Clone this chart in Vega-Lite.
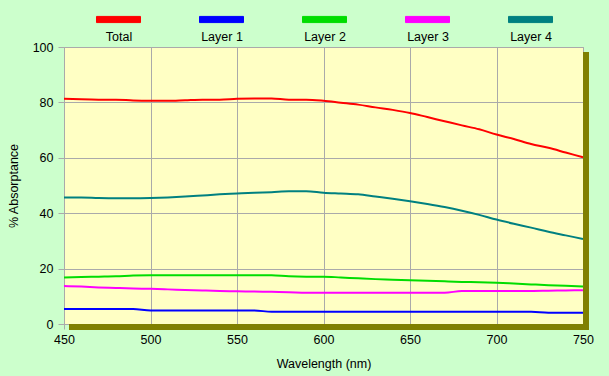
{
  "$schema": "https://vega.github.io/schema/vega-lite/v6.json",
  "width": 519,
  "height": 277,
  "autosize": {"type": "none"},
  "padding": {"left": 64, "top": 47, "right": 26, "bottom": 52},
  "background": "#ccffcc",
  "config": {
    "font": "Liberation Sans",
    "view": {"fill": "#ffffc4", "stroke": "#aaaaaa", "strokeWidth": 1},
    "axis": {
      "domain": false,
      "gridColor": "#aaaaaa",
      "gridWidth": 1,
      "gridOpacity": 1,
      "tickColor": "#aaaaaa",
      "tickWidth": 1,
      "labelFont": "Liberation Sans",
      "labelFontSize": 12.5,
      "labelColor": "#000000",
      "titleFont": "Liberation Sans",
      "titleFontSize": 12.5,
      "titleFontWeight": "normal",
      "titleColor": "#000000"
    }
  },
  "layer": [
    {
      "data": {
        "values": [
          {"w": 450, "Total": 81.3, "Layer 1": 5.4, "Layer 2": 16.8, "Layer 3": 13.7, "Layer 4": 45.7},
          {"w": 460, "Total": 81.1, "Layer 1": 5.4, "Layer 2": 17.0, "Layer 3": 13.5, "Layer 4": 45.7},
          {"w": 470, "Total": 81.0, "Layer 1": 5.4, "Layer 2": 17.1, "Layer 3": 13.2, "Layer 4": 45.5},
          {"w": 480, "Total": 81.0, "Layer 1": 5.4, "Layer 2": 17.2, "Layer 3": 13.0, "Layer 4": 45.4},
          {"w": 490, "Total": 80.7, "Layer 1": 5.4, "Layer 2": 17.5, "Layer 3": 12.8, "Layer 4": 45.4},
          {"w": 500, "Total": 80.6, "Layer 1": 4.9, "Layer 2": 17.6, "Layer 3": 12.7, "Layer 4": 45.5},
          {"w": 510, "Total": 80.6, "Layer 1": 4.9, "Layer 2": 17.6, "Layer 3": 12.5, "Layer 4": 45.7},
          {"w": 520, "Total": 80.8, "Layer 1": 4.9, "Layer 2": 17.6, "Layer 3": 12.3, "Layer 4": 46.0},
          {"w": 530, "Total": 81.0, "Layer 1": 4.9, "Layer 2": 17.6, "Layer 3": 12.1, "Layer 4": 46.4},
          {"w": 540, "Total": 81.0, "Layer 1": 4.9, "Layer 2": 17.6, "Layer 3": 11.9, "Layer 4": 46.8},
          {"w": 550, "Total": 81.3, "Layer 1": 4.9, "Layer 2": 17.6, "Layer 3": 11.8, "Layer 4": 47.1},
          {"w": 560, "Total": 81.4, "Layer 1": 4.9, "Layer 2": 17.6, "Layer 3": 11.7, "Layer 4": 47.4},
          {"w": 570, "Total": 81.4, "Layer 1": 4.4, "Layer 2": 17.6, "Layer 3": 11.6, "Layer 4": 47.6},
          {"w": 580, "Total": 81.0, "Layer 1": 4.4, "Layer 2": 17.2, "Layer 3": 11.5, "Layer 4": 47.9},
          {"w": 590, "Total": 81.0, "Layer 1": 4.4, "Layer 2": 17.1, "Layer 3": 11.3, "Layer 4": 47.9},
          {"w": 600, "Total": 80.6, "Layer 1": 4.4, "Layer 2": 17.1, "Layer 3": 11.3, "Layer 4": 47.4},
          {"w": 610, "Total": 79.9, "Layer 1": 4.4, "Layer 2": 16.8, "Layer 3": 11.3, "Layer 4": 47.1},
          {"w": 620, "Total": 79.2, "Layer 1": 4.4, "Layer 2": 16.5, "Layer 3": 11.3, "Layer 4": 46.8},
          {"w": 630, "Total": 78.2, "Layer 1": 4.4, "Layer 2": 16.2, "Layer 3": 11.3, "Layer 4": 46.0},
          {"w": 640, "Total": 77.3, "Layer 1": 4.4, "Layer 2": 16.0, "Layer 3": 11.3, "Layer 4": 45.2},
          {"w": 650, "Total": 76.2, "Layer 1": 4.4, "Layer 2": 15.8, "Layer 3": 11.3, "Layer 4": 44.3},
          {"w": 660, "Total": 74.7, "Layer 1": 4.4, "Layer 2": 15.6, "Layer 3": 11.3, "Layer 4": 43.3},
          {"w": 670, "Total": 73.2, "Layer 1": 4.4, "Layer 2": 15.4, "Layer 3": 11.3, "Layer 4": 42.2},
          {"w": 680, "Total": 71.7, "Layer 1": 4.4, "Layer 2": 15.2, "Layer 3": 11.9, "Layer 4": 40.9},
          {"w": 690, "Total": 70.3, "Layer 1": 4.4, "Layer 2": 15.1, "Layer 3": 11.9, "Layer 4": 39.4},
          {"w": 700, "Total": 68.4, "Layer 1": 4.4, "Layer 2": 14.9, "Layer 3": 11.9, "Layer 4": 37.7},
          {"w": 710, "Total": 66.8, "Layer 1": 4.4, "Layer 2": 14.6, "Layer 3": 11.9, "Layer 4": 36.2},
          {"w": 720, "Total": 65.0, "Layer 1": 4.4, "Layer 2": 14.3, "Layer 3": 11.9, "Layer 4": 34.8},
          {"w": 730, "Total": 63.6, "Layer 1": 4.1, "Layer 2": 14.0, "Layer 3": 12.0, "Layer 4": 33.3},
          {"w": 740, "Total": 61.9, "Layer 1": 4.1, "Layer 2": 13.8, "Layer 3": 12.1, "Layer 4": 32.0},
          {"w": 750, "Total": 60.2, "Layer 1": 4.1, "Layer 2": 13.5, "Layer 3": 12.2, "Layer 4": 30.7}
        ]
      },
      "transform": [
        {"fold": ["Total", "Layer 1", "Layer 2", "Layer 3", "Layer 4"], "as": ["series", "value"]}
      ],
      "mark": {"type": "line", "strokeWidth": 2, "interpolate": "monotone"},
      "encoding": {
        "x": {
          "field": "w",
          "type": "quantitative",
          "scale": {"domain": [450, 750], "nice": false, "zero": false},
          "axis": {
            "title": "Wavelength (nm)",
            "values": [450, 500, 550, 600, 650, 700, 750],
            "tickSize": 5,
            "labelPadding": 4,
            "titlePadding": 12,
            "labelFlush": false
          }
        },
        "y": {
          "field": "value",
          "type": "quantitative",
          "scale": {"domain": [0, 100], "nice": false},
          "axis": {
            "title": "% Absorptance",
            "values": [0, 20, 40, 60, 80, 100],
            "tickSize": 6,
            "labelPadding": 5,
            "titlePadding": 12
          }
        },
        "color": {
          "field": "series",
          "type": "nominal",
          "scale": {
            "domain": ["Total", "Layer 1", "Layer 2", "Layer 3", "Layer 4"],
            "range": ["#ff0000", "#0000ff", "#00dd00", "#ff00ff", "#008080"]
          },
          "legend": {
            "title": null,
            "orient": "none",
            "legendX": 32,
            "legendY": -50,
            "direction": "horizontal",
            "columns": 5,
            "columnPadding": 54,
            "padding": 0,
            "symbolType": "M-1,-0.14L1,-0.14L1,0.14L-1,0.14Z",
            "symbolSize": 1936,
            "symbolStrokeWidth": 1,
            "labelFont": "Liberation Sans",
            "labelFontSize": 12.5,
            "labelColor": "#000000",
            "labelOffset": 0,
            "labelLimit": 0,
            "encoding": {
              "symbols": {"update": {"fill": {"scale": "color", "field": "value"}, "stroke": {"value": "#999999"}, "strokeWidth": {"value": 1}, "opacity": {"value": 1}}},
              "labels": {"update": {"dx": {"value": -22}, "dy": {"value": 17}, "align": {"value": "center"}}}
            },
            "encode": {
              "symbols": {"update": {"fill": {"scale": "color", "field": "value"}, "stroke": {"value": "#999999"}, "strokeWidth": {"value": 1}, "opacity": {"value": 1}}},
              "labels": {"update": {"dx": {"value": -22}, "dy": {"value": 17}, "align": {"value": "center"}}}
            }
          }
        }
      }
    },
    {
      "data": {"values": [{}]},
      "mark": {"type": "rect", "color": "#808000", "opacity": 1, "x2Offset": 6, "yOffset": 5, "y2Offset": 6},
      "encoding": {
        "x": {"datum": 750, "type": "quantitative"},
        "x2": {"datum": 750},
        "y": {"datum": 100, "type": "quantitative"},
        "y2": {"datum": 0}
      }
    },
    {
      "data": {"values": [{}]},
      "mark": {"type": "rect", "color": "#808000", "opacity": 1, "xOffset": 5, "x2Offset": 6, "y2Offset": 6},
      "encoding": {
        "x": {"datum": 450, "type": "quantitative"},
        "x2": {"datum": 750},
        "y": {"datum": 0, "type": "quantitative"},
        "y2": {"datum": 0}
      }
    }
  ]
}
